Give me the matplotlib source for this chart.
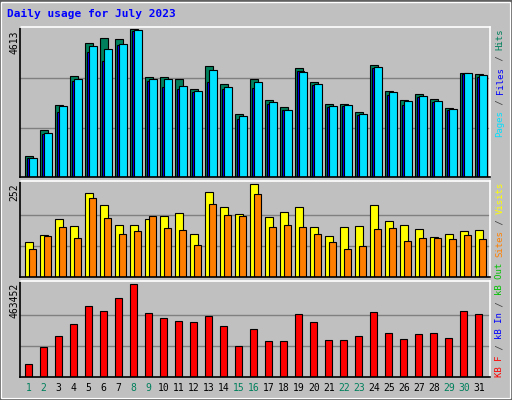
import matplotlib
matplotlib.use("Agg")
import matplotlib.pyplot as plt
from matplotlib.patches import Rectangle
import numpy as np

days = list(range(1, 32))
weekend_days = [1, 2, 8, 9, 15, 16, 22, 23, 29, 30]
hits = [647,1461,2244,3142,4175,4331,4300,4613,3110,3110,3048,2735,3455,2891,1952,3048,
        2390,2171,3392,2954,2265,2265,2014,3486,2672,2390,2578,2421,2140,3235,3204]
files_blue = [584,1336,2014,2995,3903,3621,4112,4550,2995,2807,2745,2641,2964,2745,1826,2766,
              2265,2077,3308,2860,2171,2202,1920,3392,2547,2233,2484,2327,2077,3204,3110]
pages_cyan = [605,1388,2202,3048,4081,3987,4143,4582,3048,3048,2828,2672,3329,2797,1889,2954,
              2327,2077,3267,2891,2202,2233,1952,3423,2641,2359,2515,2359,2108,3235,3173]
visits = [94,113,156,137,227,195,140,140,156,165,173,116,230,189,170,252,
          162,176,189,135,110,135,137,195,151,140,129,107,116,124,126]
sites = [77,110,135,105,214,159,116,124,165,132,126,86,197,167,165,225,
         135,140,135,116,94,77,83,129,132,96,105,105,102,113,102]
kbytes = [62600,148800,204600,265500,351700,326400,392300,463452,316200,290900,280700,275600,
          301000,255300,153900,240100,179200,179200,311100,275600,184300,184300,204600,321300,
          219800,189400,214800,219800,194500,326400,311100]
title = "Daily usage for July 2023"

BG = "#C0C0C0"
fig = plt.figure(figsize=(5.12, 4.0), dpi=100, facecolor=BG)
fig.patches.append(Rectangle((0, 0), 1, 1, transform=fig.transFigure, fill=False,
                             edgecolor="#606060", lw=3, zorder=0))
fig.patches.append(Rectangle((0.002, 0.004), 0.994, 0.992, transform=fig.transFigure, fill=False,
                             edgecolor="white", lw=1, zorder=0))

x = np.array(days, dtype=float)
left, width = 20/512, 470/512
def mkax(top_px, bot_px):
    ax = fig.add_axes([left, 1-bot_px/400, width, (bot_px-top_px)/400])
    ax.set_facecolor(BG)
    ax.set_xlim(0.67, 32.0)
    ax.set_xticks([]); ax.set_yticks([])
    for s in ["left", "bottom"]:
        ax.spines[s].set_color("black")
    for s in ["right", "top"]:
        ax.spines[s].set_color("white")
    for sp in ax.spines.values():
        sp.set_linewidth(1.2)
    return ax

kw = dict(align="edge", edgecolor="black", linewidth=0.8)
ax1 = mkax(27, 177)
ax1.set_ylim(0, max(hits)*1.015)
for f in (1/3, 2/3):
    ax1.axhline(max(hits)*f, color="#808080", lw=1, zorder=0)
ax1.bar(x, hits, width=0.53, color="#00805C", **kw)
ax1.bar(x+0.13, files_blue, width=0.5, color="#0000FF", **kw)
ax1.bar(x+0.3, pages_cyan, width=0.48, color="#00E0FF", **kw)

ax2 = mkax(181, 277)
ax2.set_ylim(0, max(visits)*1.03)
for f in (1/3, 2/3):
    ax2.axhline(max(visits)*f, color="#808080", lw=1, zorder=0)
ax2.bar(x, visits, width=0.55, color="#FFFF00", **kw)
ax2.bar(x+0.28, sites, width=0.48, color="#FF8000", **kw)

ax3 = mkax(281, 377)
ax3.set_ylim(0, max(kbytes)*1.03)
for f in (1/3, 2/3):
    ax3.axhline(max(kbytes)*f, color="#808080", lw=1, zorder=0)
ax3.bar(x, kbytes, width=0.5, color="#FF0000", **kw)

mono = "DejaVu Sans Mono"
for d in days:
    ax3.text(d+0.25, -0.06, str(d), transform=ax3.get_xaxis_transform(), ha="center", va="top",
             fontsize=7, family=mono, color="#00805C" if d in weekend_days else "black")

fig.text(7/512, 1-14/400, title, color="#0000FF", fontsize=8, family=mono, weight="bold", va="center")
for txt, ypx in [(str(max(hits)), 30), (str(max(visits)), 183), (str(max(kbytes)), 283)]:
    fig.text(14/512, 1-ypx/400, txt, rotation=90, va="top", ha="center", fontsize=7, family=mono)

def vlabel(parts, bottom_px, xpx=500):
    fs = 6.5
    step = fs*100/72*0.602
    y = bottom_px
    for t, c in parts:
        fig.text(xpx/512, 1-y/400, t, rotation=90, va="bottom", ha="center",
                 fontsize=fs, family=mono, color=c)
        y -= step*len(t)

sep = "#404040"
vlabel([("Pages", "#00E0FF"), (" / ", sep), ("Files", "#0000FF"), (" / ", sep), ("Hits", "#00805C")], 137)
vlabel([("Sites", "#FF8000"), (" / ", sep), ("Visits", "#FFFF00")], 257)
vlabel([("KB F", "#FF0000"), (" / ", sep), ("kB In", "#0000FF"), (" / ", sep), ("kB Out", "#00C000")], 377)

fig.savefig("out.png", dpi=100, facecolor=BG)
